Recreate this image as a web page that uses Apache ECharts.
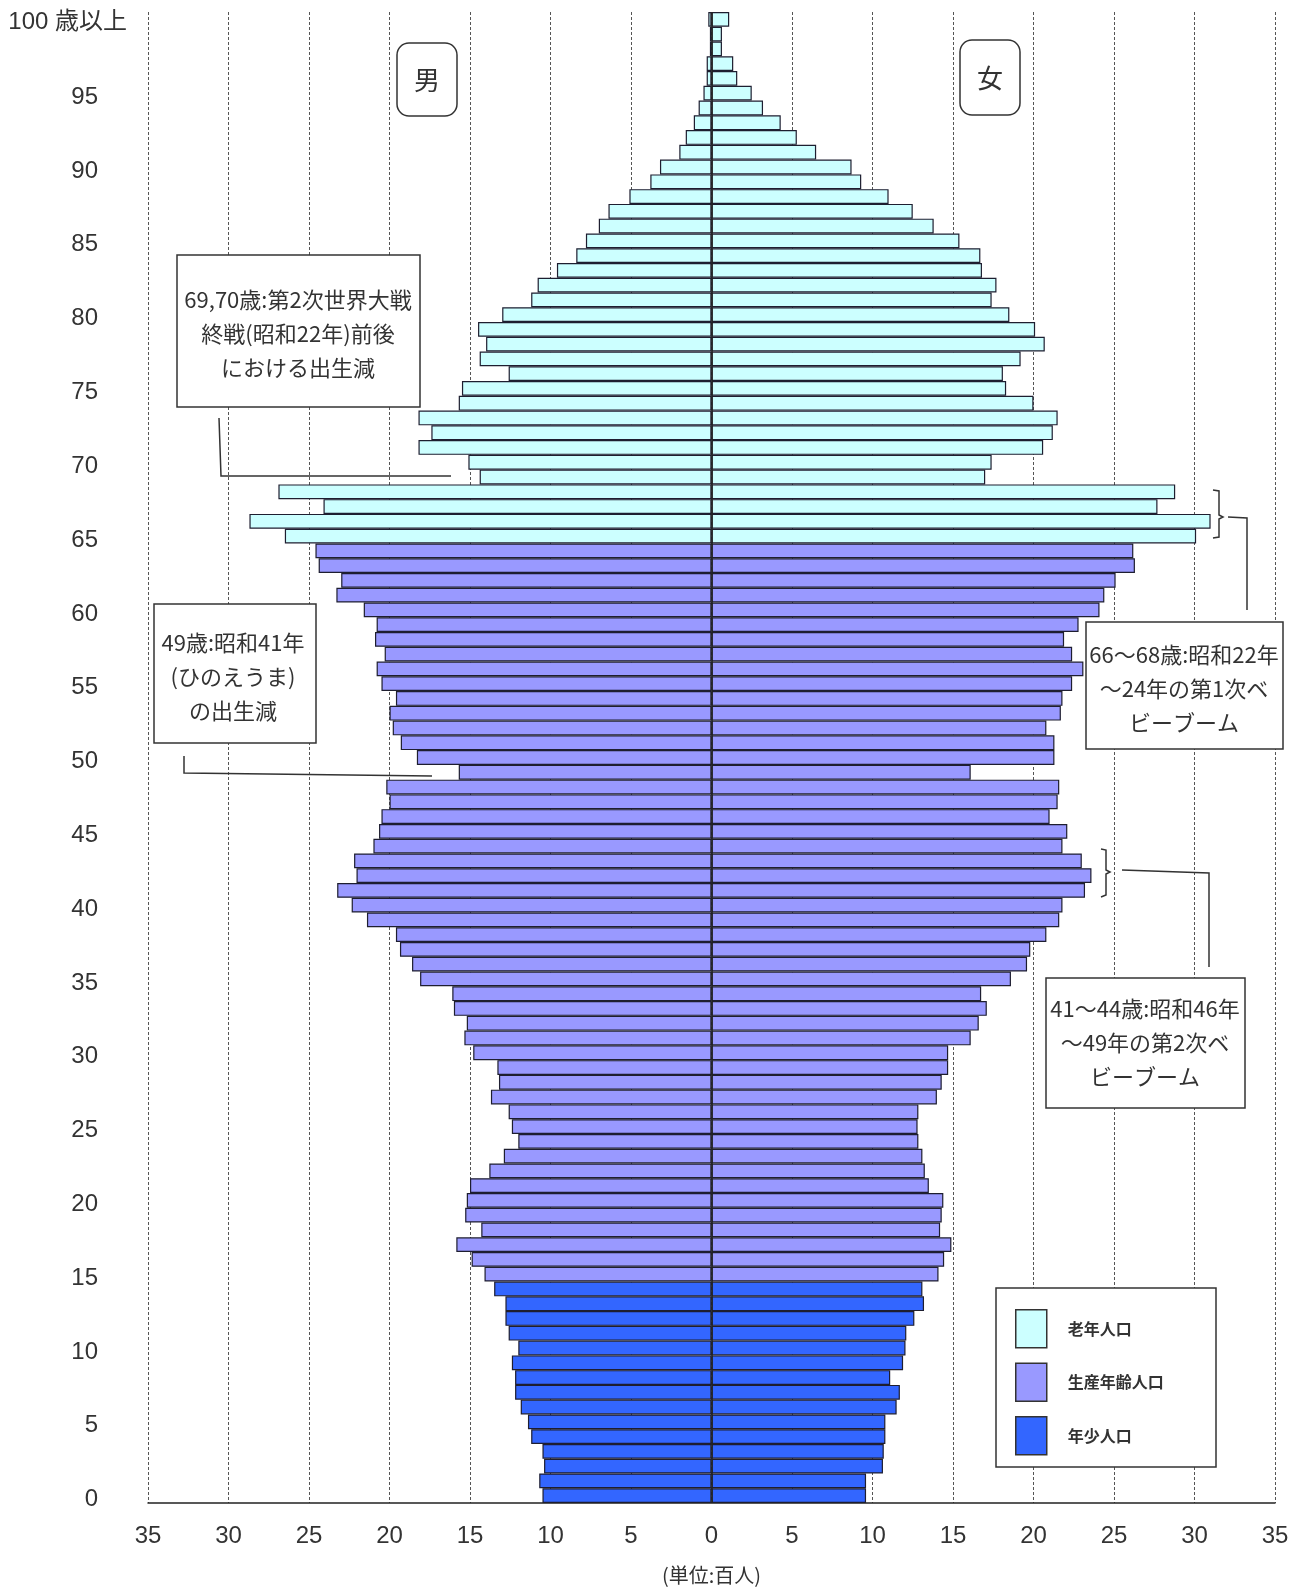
<!DOCTYPE html>
<html><head><meta charset="utf-8">
<script src="https://cdn.jsdelivr.net/npm/echarts@6/dist/echarts.min.js"></script>
<style>html,body{margin:0;padding:0;background:#fff}#c{width:1298px;height:1590px}</style>
</head><body><div id="c"></div>
<script>
// ---- data (百人) ----
// age categories 0 .. 99, "100 歳以上"
const ageLabels = [];
for (let a = 0; a < 100; a++) ageLabels.push(String(a));
ageLabels.push('100 歳以上');

// 男 (ages 0..100+)
const male = [
 10.5,10.7,10.4,10.5,11.2,11.4,11.85,12.2,12.2,12.4,
 12.0,12.6,12.8,12.8,13.5,14.1,14.9,15.85,14.3,15.3,
 15.2,15.0,13.8,12.9,12.0,12.4,12.6,13.7,13.2,13.3,
 14.8,15.35,15.2,16.0,16.1,18.1,18.6,19.35,19.6,21.4,
 22.35,23.25,22.05,22.2,21.0,20.65,20.5,20.0,20.2,15.7,
 18.3,19.3,19.8,20.0,19.6,20.5,20.8,20.3,20.9,20.8,
 21.6,23.3,23.0,24.4,24.6,26.5,28.7,24.1,26.9,14.4,
 15.1,18.2,17.4,18.2,15.7,15.5,12.6,14.4,14.0,14.5,
 13.0,11.2,10.8,9.6,8.4,7.8,7.0,6.4,5.1,3.8,
 3.2,2.0,1.6,1.1,0.8,0.5,0.3,0.3,0.1,0.1,
 0.2
];
// 女 (ages 0..100+)
const female = [
 9.6,9.6,10.65,10.7,10.8,10.8,11.5,11.7,11.1,11.9,
 12.05,12.1,12.6,13.2,13.1,14.1,14.45,14.9,14.2,14.3,
 14.4,13.5,13.25,13.1,12.85,12.8,12.85,14.0,14.3,14.7,
 14.7,16.1,16.6,17.1,16.75,18.6,19.6,19.8,20.8,21.6,
 21.8,23.2,23.6,23.0,21.8,22.1,21.0,21.5,21.6,16.1,
 21.3,21.3,20.8,21.7,21.8,22.4,23.1,22.4,21.9,22.8,
 24.1,24.4,25.1,26.3,26.2,30.1,31.0,27.7,28.8,17.0,
 17.4,20.6,21.2,21.5,20.0,18.3,18.1,19.2,20.7,20.1,
 18.5,17.4,17.7,16.8,16.7,15.4,13.8,12.5,11.0,9.3,
 8.7,6.5,5.3,4.3,3.2,2.5,1.6,1.35,0.65,0.65,
 1.1
];
// age groups
const groupNames = ['老年人口', '生産年齢人口', '年少人口'];
const groupColors = ['#CCFFFF', '#9999FF', '#3366FF'];
const groupRanges = [[65, 100], [15, 64], [0, 14]];

// ---- chart ----
const chart = echarts.init(document.getElementById('c'), null, {renderer: 'canvas'});
const FONT = "'Liberation Sans', 'Noto Sans CJK JP', sans-serif";
const JFONT = "'Noto Sans CJK JP', sans-serif";

const series = [];
groupNames.forEach((name, gi) => {
  const [lo, hi] = groupRanges[gi];
  const inG = a => a >= lo && a <= hi;
  const common = {
    name, type: 'bar', stack: 'pop', barCategoryGap: '0%',
    itemStyle: {color: groupColors[gi], borderColor: '#1e1e30', borderWidth: 1.2},
    emphasis: {disabled: true}, silent: true
  };
  series.push(Object.assign({}, common, {data: male.map((v, a) => inG(a) ? -v : '-')}));
  const fs = Object.assign({}, common, {data: female.map((v, a) => inG(a) ? v : '-')});
  if (gi === 0) {
    fs.markLine = {
      silent: true, symbol: ['none', 'none'], label: {show: false},
      lineStyle: {color: '#222', type: 'solid', width: 1.5},
      data: [{xAxis: 0}]
    };
  }
  series.push(fs);
});

const boxStyle = {fill: '#fff', stroke: '#333', lineWidth: 1.5};
const lineStyle = {stroke: '#333', lineWidth: 1.5, fill: null};
function txt(x, y, text, size) {
  return {type: 'text', x, y, z: 12, style: {text, fontSize: size, fontFamily: JFONT, fill: '#333',
    align: 'center', verticalAlign: 'middle', lineHeight: 34}};
}

const option = {
  animation: false,
  textStyle: {fontFamily: FONT},
  grid: {left: 148, top: 12, width: 1127, height: 1498, containLabel: false},
  xAxis: {
    type: 'value', min: -35, max: 35, interval: 5,
    axisLine: {show: true, onZero: false, lineStyle: {color: '#222', width: 1.5}},
    axisTick: {show: false},
    axisLabel: {formatter: v => Math.abs(v), fontSize: 24, color: '#333', margin: 21, fontFamily: FONT},
    splitLine: {show: true, lineStyle: {type: [3, 2], color: '#555', width: 1}},
    name: '(単位:百人)', nameLocation: 'middle', nameGap: 62,
    nameTextStyle: {fontSize: 20, color: '#333', fontFamily: JFONT}
  },
  yAxis: {
    type: 'category', data: ageLabels,
    axisLine: {show: false, onZero: false}, axisTick: {show: false},
    splitLine: {show: false},
    axisLabel: {
      interval: (i) => i % 5 === 0, margin: 21,
      formatter: (v, i) => i === 100 ? '{t|' + v + '}' : '{n|' + v + '}',
      rich: {
        n: {fontSize: 24, color: '#333', fontFamily: FONT, padding: [8, 29, 0, 0]},
        t: {fontSize: 24, color: '#333', fontFamily: FONT, padding: [6, 0, 0, 0]}
      }
    }
  },
  legend: {
    data: groupNames, orient: 'vertical', left: 1015, top: 1309, padding: 0,
    itemWidth: 31, itemHeight: 38, itemGap: 14, icon: 'rect', selectedMode: false, z: 20,
    itemStyle: {borderColor: '#333', borderWidth: 1.5},
    textStyle: {fontSize: 16, fontWeight: 'bold', color: '#333', fontFamily: JFONT, padding: [0, 0, 0, 16]}
  },
  series,
  graphic: {elements: [
    // 男 / 女
    {type: 'rect', z: 10, shape: {x: 397, y: 43, width: 60, height: 73, r: 12}, style: boxStyle},
    txt(427, 80, '男', 26),
    {type: 'rect', z: 10, shape: {x: 960, y: 40, width: 60, height: 75, r: 12}, style: boxStyle},
    txt(990, 78, '女', 26),
    // 69,70
    {type: 'rect', z: 10, shape: {x: 177, y: 255, width: 243, height: 152}, style: boxStyle},
    txt(298, 334, '69,70歳:第2次世界大戦\n終戦(昭和22年)前後\nにおける出生減', 22),
    {type: 'polyline', z: 10, shape: {points: [[219, 418], [221, 476], [451, 476]]}, style: lineStyle},
    // 49
    {type: 'rect', z: 10, shape: {x: 154, y: 604, width: 162, height: 139}, style: boxStyle},
    txt(233, 677, '49歳:昭和41年\n(ひのえうま)\nの出生減', 22),
    {type: 'polyline', z: 10, shape: {points: [[184, 756], [184, 773], [432, 776]]}, style: lineStyle},
    // 66-68
    {type: 'polyline', z: 10, shape: {points: [[1213, 490], [1219, 491], [1219, 515], [1223, 517], [1219, 519], [1219, 537], [1213, 538]]}, style: lineStyle},
    {type: 'polyline', z: 10, shape: {points: [[1228, 517], [1247, 518], [1247, 610]]}, style: lineStyle},
    {type: 'rect', z: 10, shape: {x: 1086, y: 622, width: 197, height: 127}, style: boxStyle},
    txt(1184, 689, '66〜68歳:昭和22年\n〜24年の第1次ベ\nビーブーム', 22),
    // 41-44
    {type: 'polyline', z: 10, shape: {points: [[1101, 849], [1106, 850], [1106, 870], [1110, 872], [1106, 874], [1106, 895], [1101, 897]]}, style: lineStyle},
    {type: 'polyline', z: 10, shape: {points: [[1122, 870], [1209, 873], [1209, 967]]}, style: lineStyle},
    {type: 'rect', z: 10, shape: {x: 1046, y: 978, width: 199, height: 130}, style: boxStyle},
    txt(1145, 1043, '41〜44歳:昭和46年\n〜49年の第2次ベ\nビーブーム', 22),
    // legend frame
    {type: 'rect', z: 10, shape: {x: 996, y: 1288, width: 220, height: 179}, style: boxStyle}
  ]}
};
chart.setOption(option);
</script>
</body></html>
